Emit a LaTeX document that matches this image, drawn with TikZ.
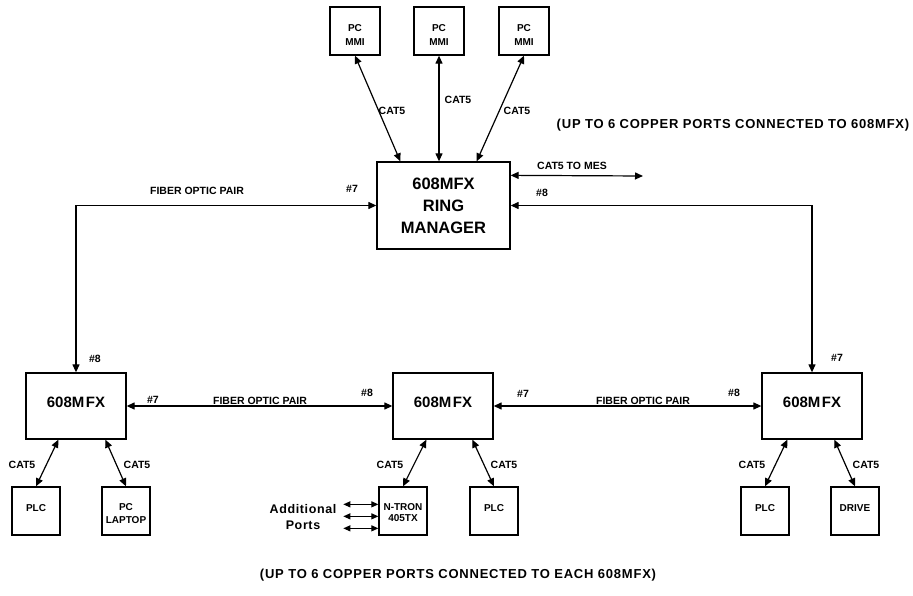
\documentclass[tikz,border=0pt]{standalone}
\usepackage{fontspec}
\setmainfont{Liberation Sans}
\usetikzlibrary{arrows.meta,calc,positioning}

\tikzset{
  unit/.style={draw, line width=1.3pt, minimum width=48pt, minimum height=48pt,
    inner sep=0pt, align=center, font=\bfseries\fontsize{10}{12.5}\selectfont},
  one/.style={text height=7.2pt, text depth=6pt},
  switch/.style={draw, line width=1.3pt, minimum width=100pt, minimum height=66pt,
    inner sep=0pt, text height=10.7pt, text depth=8pt, font=\bfseries\fontsize{15}{18}\selectfont},
  link/.style={line width=1.2pt, {Triangle[length=8pt,width=7pt]}-{Triangle[length=8pt,width=7pt]}},
  tag/.style={inner sep=0pt, font=\bfseries\fontsize{10.5}{12}\selectfont},
  note/.style={inner sep=0pt, font=\bfseries\fontsize{13}{14}\selectfont\addfontfeature{LetterSpace=6}},
}

\begin{document}
\begin{tikzpicture}[x=1pt, y=-1pt]
\useasboundingbox (0,0) rectangle (913,596);

% Top PCs
\foreach \x [count=\i] in {355,439,524} {
  \node[unit, minimum width=50pt, text height=29pt,
    font=\bfseries\fontsize{10}{14}\selectfont] (pc\i) at (\x,31) {PC\\MMI};
}

% Ring manager
\node[draw, line width=1.3pt, minimum width=133pt, minimum height=87pt, align=center,
  font=\bfseries\fontsize{16.5}{22}\selectfont] (ring) at (443.5,205.5) {608MFX\\RING\\MANAGER};

% Ring members
\node[switch] (mfxL) at (76,406) {608M\kern1.5pt FX};
\node[switch] (mfxM) at (443,406) {608M\kern1.5pt FX};
\node[switch] (mfxR) at (812,406) {608M\kern1.5pt FX};

% Field devices
\node[unit, one] (plcA) at (36,511) {PLC};
\node[unit, text height=25pt, font=\bfseries\fontsize{10}{13}\selectfont] (laptop) at (126,511) {PC\\LAPTOP};
\node[unit, text height=22pt, font=\bfseries\fontsize{10}{11}\selectfont] (ntron) at (403,511) {N-TRON\\405TX};
\node[unit, one] (plcB) at (494,511) {PLC};
\node[unit, one] (plcC) at (765,511) {PLC};
\node[unit, one] (drive) at (855,511) {DRIVE};

% CAT5 to PCs
\draw[link] (pc1.south) -- ($(ring.north west)+(24,0)$);
\draw[link] (pc2.south) -- (pc2.south |- ring.north);
\draw[link] (pc3.south) -- ($(ring.north east)+(-34,0)$);

% CAT5 to MES
\coordinate (mes) at (643,176);
\draw[link] ($(ring.north east)+(0,14)$) -- (mes);

% Fiber ring
\draw[link] (ring.west) -| (mfxL.north);
\draw[link] (ring.east) -| (mfxR.north);
\draw[link] (mfxL.east) -- (mfxM.west);
\draw[link] (mfxM.east) -- (mfxR.west);

% CAT5 drops
\draw[link] ($(mfxL.south west)+(33,0)$) -- (plcA.north);
\draw[link] ($(mfxL.south west)+(80,0)$) -- (laptop.north);
\draw[link] ($(mfxM.south west)+(34,0)$) -- (ntron.north);
\draw[link] ($(mfxM.south west)+(80,0)$) -- (plcB.north);
\draw[link] ($(mfxR.south west)+(26,0)$) -- (plcC.north);
\draw[link] ($(mfxR.south west)+(73,0)$) -- (drive.north);

% Additional ports
\foreach \dy [count=\i] in {18,30,42} {
  \coordinate (port\i) at ($(ntron.north west)+(-35,\dy)$);
  \draw[line width=1.1pt, {Triangle[length=7pt,width=6pt]}-{Triangle[length=7pt,width=6pt]}]
    (port\i) -- (port\i -| ntron.west);
}

% Labels
\node[tag] (catA) at (392,111) {CAT5};
\node[tag] (catB) at (458,100) {CAT5};
\node[tag] (catC) at (517,111) {CAT5};
\node[tag] (mesTag) at (572,166) {CAT5 TO MES};
\node[tag] (fibTop) at (197,191) {FIBER OPTIC PAIR};
\node[tag] (pRingL) at (352,189) {\#7};
\node[tag] (pRingR) at (542,193) {\#8};
\node[tag] (pTopL) at (95,359) {\#8};
\node[tag] (pTopR) at (837,358) {\#7};
\node[tag] (pL) at (153,400) {\#7};
\node[tag] (fibL) at (260,401) {FIBER OPTIC PAIR};
\node[tag] (pMl) at (367,393) {\#8};
\node[tag] (pMr) at (523,394) {\#7};
\node[tag] (fibR) at (643,401) {FIBER OPTIC PAIR};
\node[tag] (pR) at (734,393) {\#8};
\node[tag] (catD) at (22,465) {CAT5};
\node[tag] (catE) at (137,465) {CAT5};
\node[tag] (catF) at (390,465) {CAT5};
\node[tag] (catG) at (504,465) {CAT5};
\node[tag] (catH) at (752,465) {CAT5};
\node[tag] (catI) at (866,465) {CAT5};
\node[note, align=center, font=\bfseries\fontsize{12.5}{16}\selectfont\addfontfeature{LetterSpace=5}]
  (extra) at (303,517) {Additional\\Ports};

% Notes
\node[note] (noteTop) at (733,125) {(UP TO 6 COPPER PORTS CONNECTED TO 608MFX)};
\node[note] (noteBot) at (458,575) {(UP TO 6 COPPER PORTS CONNECTED TO EACH 608MFX)};
\end{tikzpicture}
\end{document}
